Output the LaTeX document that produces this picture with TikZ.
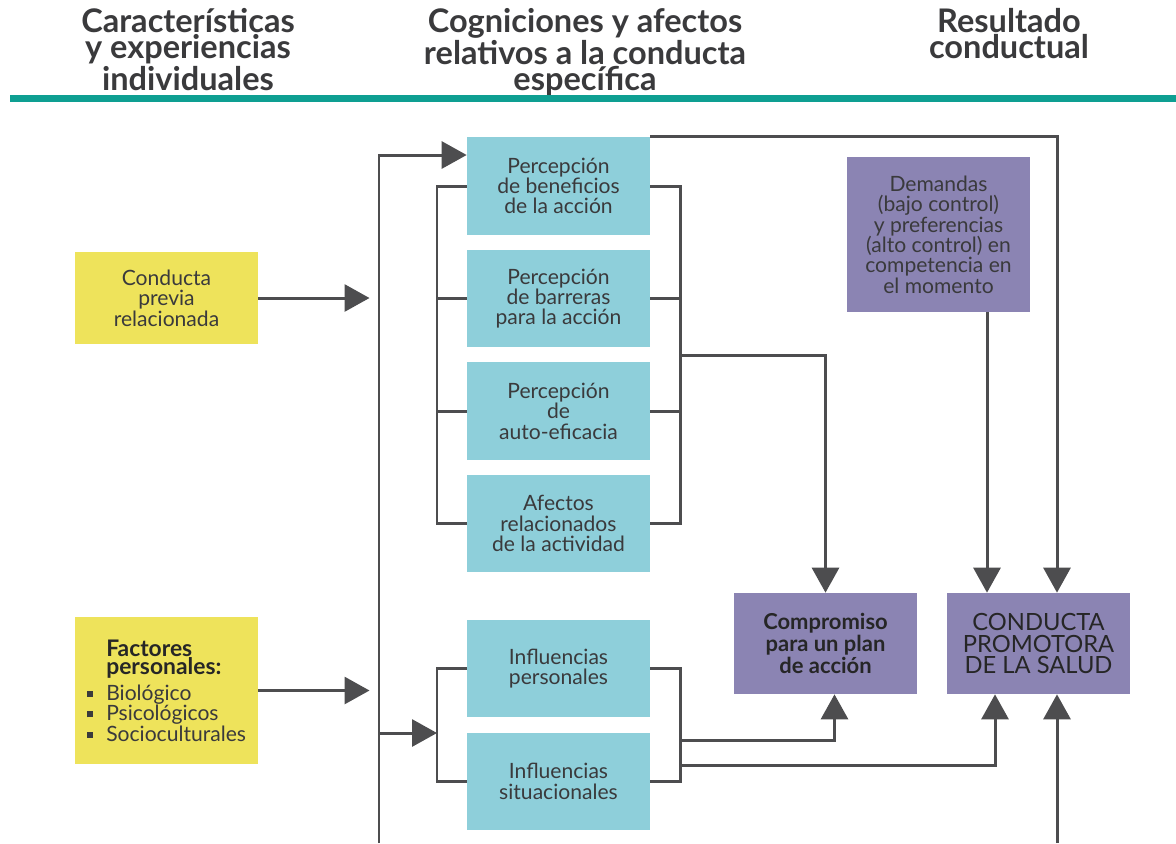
\documentclass[tikz,border=0pt]{standalone}
\usepackage{fontspec}
\setmainfont{Lato}
\usepackage{tikz}
\usetikzlibrary{arrows.meta,calc}
\definecolor{verdeazul}{HTML}{0E9F92}
\definecolor{celeste}{HTML}{8ECFDA}
\definecolor{amarillo}{HTML}{EEE35B}
\definecolor{lila}{HTML}{8B84B3}
\definecolor{gris}{HTML}{4D4D4F}
\definecolor{texto}{HTML}{3A3A3C}
\def\bul{\makebox[11pt][l]{\rule[2pt]{3.4pt}{3.4pt}}}

\begin{document}
\begin{tikzpicture}[x=0.02cm,y=-0.02cm,
    titulo/.style={anchor=north,inner sep=0pt,align=center,text=texto,
        font=\bfseries\fontsize{18.5}{15}\selectfont},
    caja/.style={rectangle,inner sep=0pt,minimum width=3.66cm,align=center,
        text=texto,font=\fontsize{12}{11.6}\selectfont},
    cbox/.style={caja,fill=celeste,minimum height=1.95cm},
    ybox/.style={caja,fill=amarillo},
    pbox/.style={caja,fill=lila},
    linea/.style={gris,line width=1.7pt},
    flecha/.style={linea,-{Triangle[length=0.5cm,width=0.54cm]}}]
    \useasboundingbox[fill=white] (0,0) rectangle (1176,843);
    % encabezado
    \node[titulo] (tit1) at (188,8) {Características\\y experiencias\\individuales};
    \node[titulo] (tit2) at (585,8) {Cogniciones y afectos\\relativos a la conducta\\específica};
    \node[titulo] (tit3) at (1009,8) {Resultado\\conductual};
    \fill[verdeazul] (10,95) rectangle (1176,102);
    % cajas
    \node[ybox,minimum height=1.84cm] (conducta) at (166.5,298) {Conducta\\previa\\relacionada};
    \node[ybox,minimum height=2.94cm,align=left] (factores) at (166.5,690.5)
        {\hspace*{11pt}{\bfseries\fontsize{13}{11}\selectfont\color{black!85}Factores}\\[-1pt]
         \hspace*{11pt}{\bfseries\fontsize{13}{11}\selectfont\color{black!85}personales:}\\[3pt]
         \bul Biológico\\ \bul Psicológicos\\ \bul Socioculturales};
    \node[cbox] (benef) at (558.5,186) {Percepción\\de beneficios\\de la acción};
    \node[cbox] (barreras) at (558.5,298.5) {Percepción\\de barreras\\para la acción};
    \node[cbox] (autoef) at (558.5,411) {Percepción\\de\\auto-eficacia};
    \node[cbox] (afectos) at (558.5,523.5) {Afectos\\relacionados\\de la actividad};
    \node[cbox] (infpers) at (558.5,668.5) {Influencias\\personales};
    \node[cbox] (infsit) at (558.5,781.5) {Influencias\\situacionales};
    \node[pbox,minimum height=3.1cm] (demandas) at (938.5,234.5)
        {Demandas\\(bajo control)\\y preferencias\\(alto control) en\\competencia en\\el momento};
    \node[pbox,minimum height=2.02cm,text=black!85,
        font=\bfseries\fontsize{12.5}{10.2}\selectfont] (compromiso) at (825.5,643.5)
        {Compromiso\\para un plan\\de acción};
    \node[pbox,minimum height=2.02cm,text=black!85,
        font=\fontsize{13.5}{12}\selectfont] (resultado) at (1038.5,643.5)
        {CONDUCTA\\PROMOTORA\\DE LA SALUD};
    % puntos de paso
    \coordinate (tronco) at (379,843);
    \coordinate (base) at (1057,843);
    \coordinate (cogizq) at (437,355);
    \coordinate (cogder) at (680,355);
    \coordinate (infizq) at (437,733);
    \coordinate (infder) at (680,733);
    \coordinate (entA) at ([xshift=-1.03cm]resultado.north);
    \coordinate (entB) at ([xshift=0.37cm]resultado.north);
    % conectores
    \draw[flecha] (tronco) |- ([yshift=0.62cm]benef.west);
    \draw[flecha,shorten >=0.19cm] (conducta.east) -- (conducta.east -| tronco);
    \draw[flecha,shorten >=0.19cm] (factores.east) -- (factores.east -| tronco);
    \draw[flecha] (tronco |- infizq) -- (infizq);
    \draw[linea] (benef.west) -| (cogizq) |- (afectos.west);
    \draw[linea] (barreras.west) -- (barreras.west -| cogizq);
    \draw[linea] (autoef.west) -- (autoef.west -| cogizq);
    \draw[linea] (benef.east) -| (cogder) |- (afectos.east);
    \draw[linea] (barreras.east) -- (barreras.east -| cogder);
    \draw[linea] (autoef.east) -- (autoef.east -| cogder);
    \draw[flecha] (cogder) -| (compromiso.north);
    \draw[linea] (infpers.west) -| (infizq) |- (infsit.west);
    \draw[linea] (infpers.east) -| (infder) |- (infsit.east);
    \draw[flecha] ([yshift=-0.14cm]infder) -| ([xshift=0.18cm]compromiso.south);
    \draw[flecha] ([yshift=-0.64cm]infder) -| ([xshift=-0.87cm]resultado.south);
    \draw[flecha] (benef.north east) -| (entB);
    \draw[flecha] (demandas.south -| entA) -- (entA);
    \draw[flecha] (base) -- (base |- resultado.south);
\end{tikzpicture}
\end{document}
